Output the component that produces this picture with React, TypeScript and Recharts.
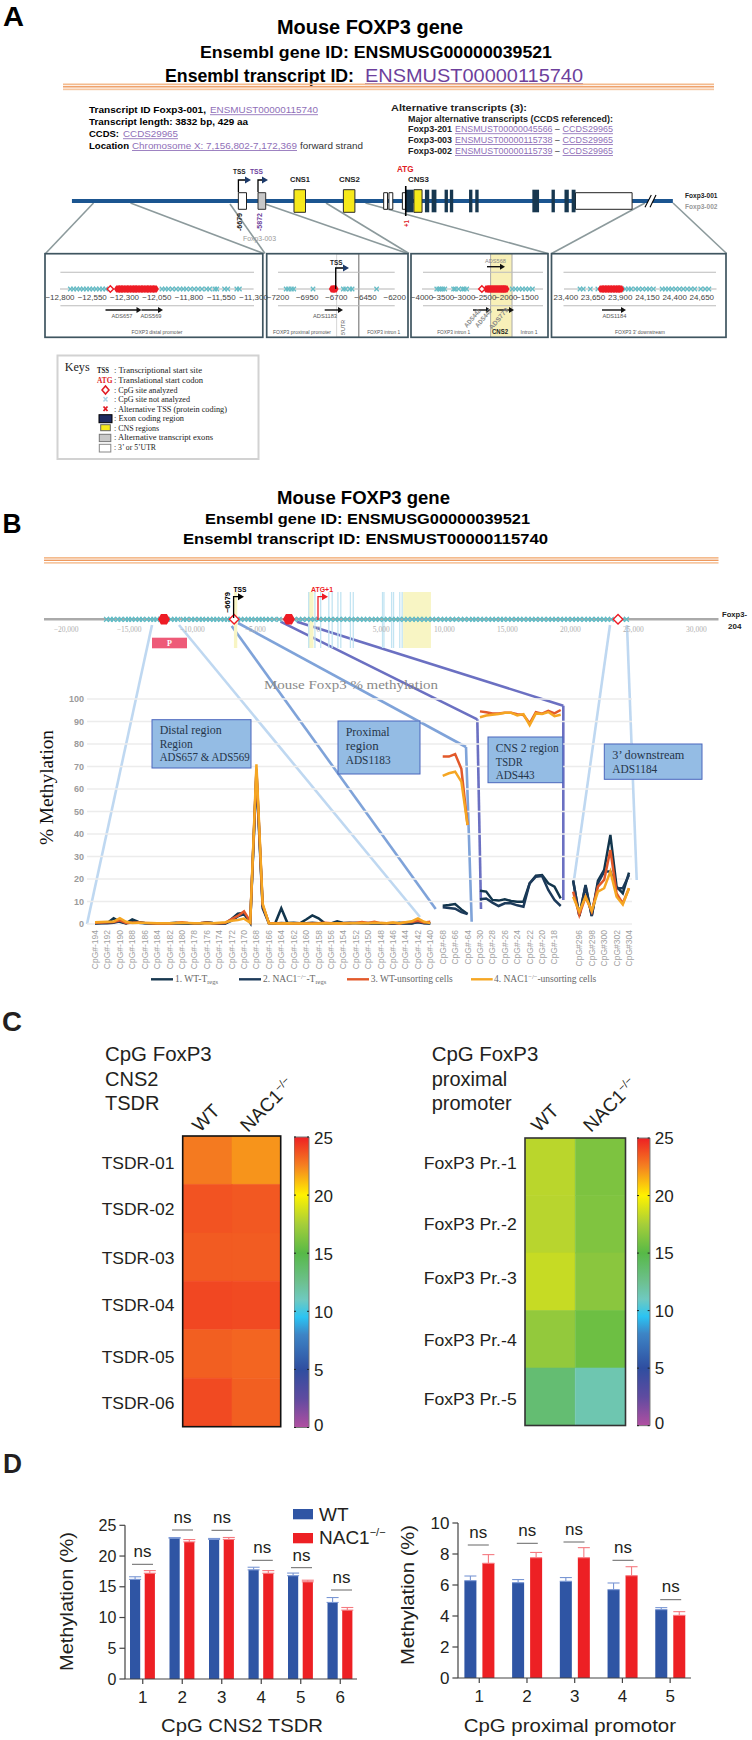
import React from "react";
import {
  Bar, BarChart, CartesianGrid, Cell, ErrorBar, Line, LineChart, ReferenceArea,
  ReferenceLine, Scatter, ScatterChart, XAxis, YAxis,
} from "recharts";

const SANS = "Liberation Sans, Arial, sans-serif";
const SERIF = "Liberation Serif, serif";
const PURPLE = "#6d3f9c";
const LINK = "#8f6fb8";
const INK = "#231f20";

// panel B: % methylation by CpG site
const distalSites = [
  -194, -193, -192, -191, -190, -189, -188, -187, -186, -185, -184, -183, -182, -181, -180, -179, -178, -177, -176,
  -175, -174, -173, -172, -171, -170, -169, -168, -167, -166, -165, -164, -163, -162, -161, -160, -159, -158, -157,
  -156, -155, -154, -153, -152, -151, -150, -149, -148, -147, -146, -145, -144, -143, -142, -141, -140,
];
const proximalSites = [-68, -67, -66, -65, -64];
const tsdrSites = [-30, -29, -28, -27, -26, -25, -24, -23, -22, -21, -20, -19, -18, -17];
const downstreamSites = [295, 296, 297, 298, 299, 300, 301, 302, 303, 304];

const distalWtTreg = [
  0.3, 0.4, 0.5, 2.6, 1.0, 0.3, 2.0, 0.9, 0.4, 0.3, 0.2, 0.2, 0.3, 0.6, 0.3, 0.2, 0.2, 0.3, 0.8, 0.4,
  0.2, 0.3, 2.2, 4.6, 5.0, 0.5, 68, 8.0, 0.5, 0.2, 7.0, 0.4, 0.5, 0.3, 2.0, 3.8, 2.5, 0.3, 0.3, 1.2,
  0.5, 0.6, 0.5, 0.3, 0.4, 0.3, 0.2, 0.3, 0.2, 0.5, 0.3, 0.2, 1.0, 0.4, 0.3,
];
const distalNacTreg = [
  0.2, 0.3, 0.3, 0.5, 1.2, 0.4, 0.8, 0.5, 0.3, 0.2, 0.2, 0.3, 0.2, 0.3, 0.2, 0.2, 0.3, 0.2, 0.5, 0.3,
  0.2, 0.2, 1.5, 3.4, 4.4, 0.8, 66, 7.0, 0.3, 0.2, 0.4, 0.3, 0.2, 0.2, 0.3, 0.5, 0.3, 0.2, 0.2, 0.6,
  0.3, 0.2, 0.4, 0.3, 0.2, 0.2, 0.3, 0.2, 0.3, 0.2, 0.2, 0.3, 0.8, 0.3, 0.2,
];
const distalWtUnsort = [
  0.6, 0.7, 0.8, 0.9, 1.6, 0.5, 0.6, 0.7, 0.5, 0.3, 0.2, 0.3, 0.2, 0.4, 0.8, 0.5, 0.3, 0.4, 0.6, 0.3,
  0.3, 0.5, 2.2, 3.6, 5.6, 1.2, 69, 8.5, 0.4, 0.3, 0.2, 0.3, 0.2, 0.2, 0.1, 0.2, 0.3, 0.6, 0.3, 0.2,
  0.3, 0.4, 0.5, 0.9, 0.5, 1.0, 0.4, 0.3, 0.6, 0.2, 0.8, 0.9, 1.4, 0.7, 1.0,
];
const distalNacUnsort = [
  0.8, 0.9, 1.0, 1.1, 2.6, 1.0, 0.5, 0.6, 0.5, 0.4, 0.3, 0.3, 0.3, 0.4, 0.5, 0.4, 0.3, 0.3, 0.4, 0.3,
  0.6, 0.8, 1.4, 1.8, 2.4, 0.6, 71, 9.0, 0.3, 0.2, 0.2, 0.3, 0.2, 0.2, 0.2, 0.1, 0.2, 0.3, 0.2, 0.3,
  0.2, 0.3, 0.3, 0.4, 0.3, 0.5, 0.4, 0.3, 0.7, 0.3, 0.8, 1.2, 2.5, 1.0, 0.4,
];
const proxWtTreg = [8.1, 8.4, 8.9, 6.5, 4.4];
const proxNacTreg = [7.4, 7.1, 6.8, 5.3, 4.4];
const proxWtUnsort = [74.4, 74.4, 75.5, 69, 44];
const proxNacUnsort = [65.8, 67, 67.7, 63.3, 44];
const tsdrWtTreg = [14.8, 14.4, 10.7, 10.4, 11, 10.2, 9.9, 9.9, 18.1, 21.5, 21.8, 18.1, 16.6, 11.4];
const tsdrNacTreg = [11, 11.3, 9.5, 8, 9.2, 9.2, 8.3, 7.7, 18.1, 21, 21.3, 15.1, 10.7, 8];
const tsdrWtUnsort = [94.5, 94.1, 93.6, 93.6, 93.9, 93.9, 93.2, 92.9, 89.2, 94.1, 93.5, 94.7, 93.6, 95.1];
const tsdrNacUnsort = [91.9, 92.7, 93, 93.3, 93.9, 93.9, 92.7, 93.3, 88.4, 93.6, 93.3, 94.2, 92.4, 93];
const downWtTreg = [19.3, 3.6, 17.3, 3.6, 19.3, 24, 39.6, 16.6, 13.6, 22.8];
const downNacTreg = [19.3, 3.6, 16.9, 3.6, 18.1, 23.3, 23.3, 15.9, 15.9, 21.8];
const downWtUnsort = [14.4, 4, 12.1, 5.5, 16.6, 19.6, 32.9, 13.6, 9.2, 15.9];
const downNacUnsort = [12.1, 5.5, 12.1, 5.9, 14.4, 15.9, 23.3, 12.1, 8.7, 15.9];
const percentTicks = [0, 10, 20, 30, 40, 50, 60, 70, 80, 90, 100];

// panel C
const tsdrRows = ["TSDR-01", "TSDR-02", "TSDR-03", "TSDR-04", "TSDR-05", "TSDR-06"];
const tsdrHeatWT = [22.7, 23.7, 23.5, 24.0, 23.4, 23.93];
const tsdrHeatNAC = [22.1, 23.57, 23.47, 23.93, 23.25, 23.4];
const prRows = ["FoxP3 Pr.-1", "FoxP3 Pr.-2", "FoxP3 Pr.-3", "FoxP3 Pr.-4", "FoxP3 Pr.-5"];
const prHeatWT = [18.05, 18.0, 18.4, 16.9, 13.5];
const prHeatNAC = [16.2, 16.3, 16.6, 15.7, 11.5];
const colorStops = [
  [0, "#b14fa1"], [2.5, "#5f4ba0"], [5, "#2f4ea0"], [8, "#3d85c6"], [9.5, "#2bc4f3"], [11, "#6fc9c0"],
  [12.5, "#6dc08f"], [15, "#57b947"], [17.5, "#a6ce39"], [20, "#fff200"], [22.5, "#f58220"], [25, "#ee2024"],
] as [number, string][];
const colorbarTicks = [0, 5, 10, 15, 20, 25];

// panel D
const tsdrCpG = ["1", "2", "3", "4", "5", "6"];
const tsdrWT = [16.2, 22.9, 22.7, 17.75, 16.8, 12.45];
const tsdrWTerr = [0.43, 0.1, 0.16, 0.43, 0.43, 0.8];
const tsdrNAC = [17.2, 22.3, 22.7, 17.2, 15.8, 11.2];
const tsdrNACerr = [0.43, 0.38, 0.32, 0.43, 0.27, 0.43];
const promCpG = ["1", "2", "3", "4", "5"];
const promWT = [6.28, 6.15, 6.24, 5.7, 4.41];
const promWTerr = [0.3, 0.2, 0.24, 0.43, 0.13];
const promNAC = [7.4, 7.76, 7.76, 6.6, 4.04];
const promNACerr = [0.56, 0.34, 0.65, 0.58, 0.24];

// gene model of panel A, in map units along the transcript drawing
const utrExons = [[497, 514], [800, 808], [811, 819], [839, 847], [1200, 1318]];
const altExons = [[538, 554]];
const cnsBlocks = [[613, 637], [716, 740], [863, 880]];
const codingExons = [
  [846, 862], [886, 895], [900, 910], [927, 934], [938, 945], [978, 985], [991, 998], [1110, 1124], [1150, 1157],
  [1177, 1186], [1192, 1200],
];

// CpG positions (bp from ATG) in the four close-ups of panel A
const distalNot = [
  -12720, -12695, -12670, -12645, -12620, -12595, -12570, -12545, -12520, -12495, -12470, -12445, -12010, -11985,
  -11960, -11930, -11900, -11870, -11845, -11820, -11790, -11760, -11730, -11700, -11665, -11640, -11600, -11585,
  -11525, -11500, -11430, -11410,
];
const distalYes = [
  -12350, -12330, -12310, -12285, -12265, -12240, -12220, -12200, -12175, -12155, -12130, -12110, -12085, -12065,
];
const distalHollow = [-12410];
const proxNot = [-7130, -7110, -7085, -7065, -6900, -6640, -6620, -6585, -6565, -6355];
const proxYes = [-6730, -6715];
const cns2Not = [
  -3650, -3600, -3560, -3510, -3460, -3250, -3210, -3130, -3040, -3000, -2940, -1860, -1780, -1700, -1620, -1540,
  -1460, -1380,
];
const cns2Yes = [-2450, -2400, -2350, -2300, -2250, -2200, -2150, -2100, -2060, -2020];
const cns2Hollow = [-2580];
const downNot = [
  23530, 23560, 23625, 23694, 23915, 23945, 23975, 24000, 24040, 24070, 24105, 24140, 24170, 24205, 24285, 24315,
  24345, 24375, 24410, 24445, 24480, 24515, 24550, 24585, 24640, 24680, 24715,
];
const downYes = [23730, 23755, 23780, 23805, 23830, 23855, 23880, 23900];

// panel B gene track
const trackNot = [
  -16800, -16500, -16250, -15900, -15650, -15300, -15050, -14800, -14500, -14200, -13950, -13600, -13300, -13050,
  -12800, -12500, -12000, -11700, -11400, -11150, -10700, -10450, -10050, -9800, -9450, -9200, -8900, -8600, -8300,
  -8050, -7750, -7450, -7200, -6950, -6400, -6150, -5850, -5550, -5300, -5000, -4700, -4450, -4150, -3850, -3500,
  -3100, -1900, -1550, -1250, -900, -600, -300, 50, 400, 700, 1000, 1350, 1650, 2000, 2300, 2650, 2950, 3300, 3600,
  3900, 4250, 4550, 4850, 5200, 5500, 5850, 6150, 6450, 6800, 7100, 7450, 7750, 8050, 8400, 8700, 9050, 9350, 9700,
  10000, 10300, 10650, 10950, 11300, 11600, 11950, 12250, 12500, 12850, 13150, 13500, 13800, 14100, 14450, 14700,
  15050, 15350, 15700, 16000, 16300, 16650, 16950, 17250, 17600, 17900, 18250, 18550, 18850, 19200, 19500, 19800,
  20150, 20450, 20750, 21100, 21400, 21700, 22050, 22350, 22650, 22950, 23250, 24150, 24450,
];
const trackYes = [-12245, -2330];
const trackHollow = [-6679, 23780];
const trackTicks = [-20000, -15000, -10000, -5000, 0, 5000, 10000, 15000, 20000, 25000, 30000];
const exonLines = [
  -760, -266, 190, 837, 1103, 1559, 1787, 2548, 2776, 5096, 5210, 5818, 5970, 6465, 6655,
];
const cnsBands = [[-6693, -6427], [-800, -380], [6731, 8937]];

const siteRows = [
  ...distalSites.map((s, i) => ({ site: `CpG#${s}`, a: distalWtTreg[i], b: distalNacTreg[i], c: distalWtUnsort[i], d: distalNacUnsort[i] })),
  { site: "gap1" },
  ...proximalSites.map((s, i) => ({ site: `CpG#${s}`, a: proxWtTreg[i], b: proxNacTreg[i], c: proxWtUnsort[i], d: proxNacUnsort[i] })),
  { site: "gap2" },
  ...tsdrSites.map((s, i) => ({ site: `CpG#${s}`, a: tsdrWtTreg[i], b: tsdrNacTreg[i], c: tsdrWtUnsort[i], d: tsdrNacUnsort[i] })),
  { site: "gap3" },
  ...downstreamSites.map((s, i) => ({ site: `CpG#${s}`, a: downWtTreg[i], b: downNacTreg[i], c: downWtUnsort[i], d: downNacUnsort[i] })),
];

function heatColor(v: number) {
  for (let i = 1; i < colorStops.length; i++) {
    const [v0, c0] = colorStops[i - 1];
    const [v1, c1] = colorStops[i];
    if (v <= v1) {
      const t = (v - v0) / (v1 - v0);
      const ch = (c: string, k: number) => parseInt(c.slice(k, k + 2), 16);
      const mix = (k: number) => Math.round(ch(c0, k) + (ch(c1, k) - ch(c0, k)) * t);
      return `rgb(${mix(1)},${mix(3)},${mix(5)})`;
    }
  }
  return colorStops[colorStops.length - 1][1];
}

const at = (left: number, top: number): React.CSSProperties => ({ position: "absolute", left, top });

function Txt({ x, y, w, s = 10, c = "#000", b = false, f = SANS, a = "start", r = 0, u = false, children }: any) {
  return (
    <text
      x={x} y={y} fontSize={s} fill={c} fontWeight={b ? "bold" : "normal"} fontFamily={f} textAnchor={a}
      textLength={w} lengthAdjust={w ? "spacingAndGlyphs" : undefined} textDecoration={u ? "underline" : undefined}
      transform={r ? `rotate(${r} ${x} ${y})` : undefined}
    >
      {children}
    </text>
  );
}

function Seg({ p, c = "#000", w = 1 }: any) {
  return <line x1={p[0]} y1={p[1]} x2={p[2]} y2={p[3]} stroke={c} strokeWidth={w} />;
}

function Arrow({ x1, x2, y, c = "#111", h = 3 }: any) {
  return (
    <g>
      <line x1={x1} y1={y} x2={x2 - 3} y2={y} stroke={c} strokeWidth={1.4} />
      <polygon points={`${x2 - 5},${y - h} ${x2},${y} ${x2 - 5},${y + h}`} fill={c} />
    </g>
  );
}

function Tss({ x, yTop, yBase, end, head = "#1c3a6a", stem = "#000" }: any) {
  return (
    <g>
      <polyline points={`${x},${yBase} ${x},${yTop} ${end - 5},${yTop}`} fill="none" stroke={stem} strokeWidth={1.3} />
      <polygon points={`${end - 6},${yTop - 3.5} ${end},${yTop} ${end - 6},${yTop + 3.5}`} fill={head} />
    </g>
  );
}

function Rule({ x, w, y }: any) {
  return (
    <g>
      <rect x={x} y={y} width={w} height={1.7} fill="#f4bb8e" />
      <rect x={x} y={y + 2.6} width={w} height={1.4} fill="#ee9a5f" />
      <rect x={x} y={y + 5} width={w} height={1.7} fill="#f6c6a0" />
    </g>
  );
}

const crossShape = (size: number, color: string) => (p: any) => (
  <path
    d={`M${p.cx - size} ${p.cy - size}L${p.cx + size} ${p.cy + size}M${p.cx - size} ${p.cy + size}L${p.cx + size} ${p.cy - size}`}
    stroke={color} strokeWidth={1.3} fill="none"
  />
);
const hexShape = (r: number) => (p: any) => (
  <polygon
    points={`${p.cx - r},${p.cy} ${p.cx - r * 0.5},${p.cy - r * 0.87} ${p.cx + r * 0.5},${p.cy - r * 0.87} ${p.cx + r},${p.cy} ${p.cx + r * 0.5},${p.cy + r * 0.87} ${p.cx - r * 0.5},${p.cy + r * 0.87}`}
    fill="#ee1c25"
  />
);
const diamondShape = (r: number) => (p: any) => (
  <polygon
    points={`${p.cx - r},${p.cy} ${p.cx},${p.cy - r} ${p.cx + r},${p.cy} ${p.cx},${p.cy + r}`}
    fill="#fff" stroke="#ee1c25" strokeWidth={1.4}
  />
);
const pts = (list: number[]) => list.map((x) => ({ x, y: 0 }));
const commaFmt = (v: number) => v.toLocaleString("en-US").replace("-", "\u2212");
const plainFmt = (v: number) => String(v).replace("-", "\u2212");

function SiteStrip({
  left, top, width, height, domain, yDomain = [-5, 5], ticks, not, yes, hollow = [], fmt, dy, font, tickColor, tickFont, hexR = 4,
  cross = 2.2, crossColor = "#66bcc6", trackColor = "#b5b5b5", trackWidth = 1.2, extra,
}: any) {
  const side = 22;
  return (
    <div style={at(left - side, top)}>
      <ScatterChart width={width + side * 2} height={height + 14} margin={{ top: 0, right: side, bottom: 0, left: side }}>
        <XAxis
          type="number" dataKey="x" domain={domain} ticks={ticks} interval={0} axisLine={false} tickLine={false}
          tickSize={0} tickMargin={0} height={14} allowDataOverflow
          tick={(p: any) => (
            <text x={p.x} y={p.y + dy} textAnchor="middle" fontSize={tickFont} fontFamily={font} fill={tickColor}>
              {fmt(p.payload.value)}
            </text>
          )}
        />
        <YAxis type="number" dataKey="y" domain={yDomain} hide />
        {extra}
        <ReferenceLine y={0} stroke={trackColor} strokeWidth={trackWidth} />
        <Scatter data={pts(not)} shape={crossShape(cross, crossColor)} isAnimationActive={false} />
        <Scatter data={pts(yes)} shape={hexShape(hexR)} isAnimationActive={false} />
        <Scatter data={pts(hollow)} shape={diamondShape(hexR * 0.8)} isAnimationActive={false} />
      </ScatterChart>
    </div>
  );
}

function GeneModel() {
  const block = (list: number[][], half: number, fill: string, stroke: string, sw = 1) =>
    list.map(([x1, x2]) => (
      <ReferenceArea
        key={`${fill}${x1}`} x1={x1} x2={x2} y1={-half} y2={half} fill={fill} fillOpacity={1} stroke={stroke}
        strokeWidth={sw} ifOverflow="visible"
      />
    ));
  return (
    <div style={at(0, 186)}>
      <ScatterChart width={752} height={30} margin={{ top: 0, right: 0, bottom: 0, left: 0 }}>
        <XAxis type="number" dataKey="x" domain={[0, 1568]} hide />
        <YAxis type="number" dataKey="y" domain={[-15, 15]} hide />
        <ReferenceArea x1={150} x2={1403} y1={-1.9} y2={1.9} fill="#1b5590" fillOpacity={1} stroke="none" ifOverflow="visible" />
        {block(utrExons, 8.3, "#ffffff", "#222")}
        {block(altExons, 8.3, "#c8c8c8", "#333")}
        {block(codingExons, 11.3, "#17374f", "#17374f", 0)}
        {block(cnsBlocks, 11.3, "#f6e91b", "#2a2a2a")}
        <ReferenceLine x={846} stroke="#000" strokeWidth={1.6} />
        <Scatter data={pts([150, 1403])} shape={() => <g />} isAnimationActive={false} />
      </ScatterChart>
    </div>
  );
}

function Heatmap({ left, top, width, height, rows, wt, nac }: any) {
  const data = ["WT", "NAC1"].map((col) => {
    const row: any = { col };
    rows.forEach((_: string, i: number) => { row[`r${i}`] = 1; });
    return row;
  });
  return (
    <div style={at(left, top)}>
      <BarChart width={width} height={height} data={data} margin={{ top: 0, right: 0, bottom: 0, left: 0 }} barCategoryGap={0}>
        <XAxis dataKey="col" hide />
        <YAxis type="number" domain={[0, rows.length]} reversed hide />
        {rows.map((_: string, i: number) => (
          <Bar key={i} dataKey={`r${i}`} stackId="h" isAnimationActive={false}>
            <Cell fill={heatColor(wt[i])} stroke={heatColor(wt[i])} strokeWidth={0.6} />
            <Cell fill={heatColor(nac[i])} stroke={heatColor(nac[i])} strokeWidth={0.6} />
          </Bar>
        ))}
      </BarChart>
    </div>
  );
}

function Colorbar({ id, left, top, width, height, lift }: any) {
  return (
    <div style={at(left, top - 10)}>
      <BarChart
        width={width + 34} height={height + 20} data={[{ name: "scale", top: 25 }]}
        margin={{ top: 10, right: 0, bottom: 10, left: 0 }} barCategoryGap={0}
      >
        <defs>
          <linearGradient id={id} x1="0" y1="0" x2="0" y2="1">
            {[...colorStops].reverse().map(([v, c]) => <stop key={v} offset={`${((25 - v) / 25) * 100}%`} stopColor={c} />)}
          </linearGradient>
        </defs>
        <XAxis dataKey="name" hide />
        <YAxis
          orientation="right" type="number" domain={[0, 25]} ticks={colorbarTicks} interval={0} width={34} axisLine={false}
          tickLine={false} tickSize={0} tickMargin={0}
          tick={(p: any) => (
            <g>
              <line x1={p.x - width} x2={p.x - width + 2} y1={p.y} y2={p.y} stroke="#222" />
              <line x1={p.x - 2} x2={p.x} y1={p.y} y2={p.y} stroke="#222" />
              <text x={p.x + 5} y={p.y + (p.payload.value === 0 ? 3 : lift)} fontSize={17} fontFamily={SANS} fill={INK}>
                {p.payload.value}
              </text>
            </g>
          )}
        />
        <Bar dataKey="top" fill={`url(#${id})`} stroke="#777" strokeWidth={1} isAnimationActive={false} />
      </BarChart>
    </div>
  );
}

function MethBars({ left, top, width, height, margin, yWidth, cats, wt, wtErr, nac, nacErr, domain, ticks, barSize, barGap, padding, tickFont }: any) {
  const data = cats.map((c: string, i: number) => ({ c, wt: wt[i], wtE: [0, wtErr[i]], nac: nac[i], nacE: [0, nacErr[i]] }));
  const axis = { stroke: "#444", strokeWidth: 1.2 };
  return (
    <div style={at(left, top)}>
      <BarChart width={width} height={height} data={data} margin={margin} barSize={barSize} barGap={barGap}>
        <XAxis
          dataKey="c" axisLine={axis} tickLine={axis} tickSize={5} tickMargin={7} height={31} padding={padding}
          tick={{ fontSize: 17, fill: INK, fontFamily: SANS }} interval={0}
        />
        <YAxis
          type="number" domain={domain} ticks={ticks} interval={0} width={yWidth} axisLine={axis} tickLine={axis} tickSize={5.6}
          tickMargin={3} tick={{ fontSize: tickFont, fill: INK, fontFamily: SANS }}
        />
        <Bar dataKey="wt" fill="#2f55a4" isAnimationActive={false}>
          <ErrorBar dataKey="wtE" direction="y" width={6} stroke="#7a97d4" strokeWidth={1.1} isAnimationActive={false} />
        </Bar>
        <Bar dataKey="nac" fill="#ed2024" isAnimationActive={false}>
          <ErrorBar dataKey="nacE" direction="y" width={6} stroke="#f57a80" strokeWidth={1.1} isAnimationActive={false} />
        </Bar>
      </BarChart>
    </div>
  );
}

// annotation geometry, page pixels
const connectorsA = [
  [93.5, 203, 45.5, 253.5], [130.5, 203, 263.8, 253.5], [230, 204, 265, 253.5], [265, 204, 407.7, 253.5],
  [326, 203, 409, 253.5], [365.5, 203, 548, 253.5], [645, 203, 551.6, 253.5], [673, 203, 726.6, 253.5],
];
const connectorsB = [
  ["#bfd8f1", 152, 625, 87, 924], ["#bfd8f1", 179, 625, 420, 917], ["#7fa3d9", 231.7, 626, 435.7, 909],
  ["#7fa3d9", 238, 623, 466, 747], ["#7fa3d9", 466, 747, 471.7, 921.7], ["#6b70c2", 280.6, 621.7, 477.3, 719.3],
  ["#6b70c2", 477.3, 719.3, 481, 909], ["#6b70c2", 297, 621.7, 563.3, 705.7], ["#6b70c2", 563.3, 705.7, 563.3, 900],
  ["#bfd8f1", 610, 625, 574, 880], ["#bfd8f1", 627, 625, 636.7, 880],
];
const boxesB = [
  { x: 152, y: 719.7, w: 99, h: 48.3, tx: 159.7, lines: [["Distal region", 734, 62], ["Region", 747.7, 33], ["ADS657 & ADS569", 761.3, 90]] },
  { x: 338, y: 721, w: 82, h: 53, tx: 345.7, lines: [["Proximal", 736, 44], ["region", 750, 33], ["ADS1183", 764, 45]] },
  { x: 488, y: 737, w: 74.7, h: 45.7, tx: 495.7, lines: [["CNS 2 region", 751.7, 63], ["TSDR", 765.7, 27], ["ADS443", 779, 39]] },
  { x: 604.3, y: 744, w: 97.7, h: 35.3, tx: 612.3, lines: [["3\u2019 downstream", 759, 72], ["ADS1184", 772.7, 45]] },
];
const keyRows = [
  ["Transcriptional start site", 373.3, 88], ["Translational start codon", 382.7, 89], ["CpG site analyzed", 392.7, 63.5],
  ["CpG site not analyzed", 402, 76], ["Alternative TSS (protein coding)", 411.7, 113], ["Exon coding region", 421.3, 70],
  ["CNS regions", 430.7, 45], ["Alternative transcript exons", 440.3, 99], ["3\u2019 or 5\u2019UTR", 450, 42],
];
const nsLeft = [[142.5, 1557.3, 1564.3], [182.5, 1523.3, 1530], [222, 1523.3, 1530.3], [262.3, 1553.3, 1560.3], [301.5, 1560.7, 1567.7], [341.5, 1582.7, 1590]];
const nsRight = [[478.3, 1537.7, 1545], [527.3, 1536, 1543.3], [574, 1535, 1542], [623, 1553.3, 1560.3], [670.7, 1592.3, 1599.7]];
const tsdrLabelY = [1168.7, 1215, 1264, 1310.7, 1362.7, 1409];
const prLabelY = [1168.7, 1230, 1284, 1346, 1405];

function Back() {
  return (
    <svg width={752} height={1740} style={at(0, 0)}>
      {connectorsA.map((p, i) => <Seg key={i} p={p} c="#8c9a9c" w={1.6} />)}
      {connectorsB.map(([c, x1, y1, x2, y2], i) => (
        <Seg key={i} p={[x1, y1, x2, y2]} c={c} w={2.6} />
      ))}
      <rect x={490.6} y={254} width={21.4} height={83} fill="#f8f0b8" />
      <line x1={490.6} x2={490.6} y1={254} y2={337} stroke="#aaa" />
      <line x1={512} x2={512} y1={254} y2={337} stroke="#aaa" />
      <rect x={336.7} y={254} width={22} height={83} fill="#fff" stroke="#ccc" strokeWidth={0.8} />
      <line x1={358.8} x2={358.8} y1={254} y2={337} stroke="#888" strokeWidth={1.2} />
    </svg>
  );
}

function Front() {
  const grey = "#555";
  return (
    <svg width={752} height={1740} style={{ ...at(0, 0), pointerEvents: "none" }}>
      {/* panel A header */}
      <Txt x={3} y={26} s={27} b w={21}>A</Txt>
      <Txt x={277} y={34} s={20} b w={186}>Mouse FOXP3 gene</Txt>
      <Txt x={200} y={58.3} s={16.5} b w={352}>Ensembl gene ID: ENSMUSG00000039521</Txt>
      <Txt x={165} y={82.3} s={17.5} b w={189}>Ensembl transcript ID:</Txt>
      <Txt x={365} y={82.3} s={17.5} c={PURPLE} w={218} u>ENSMUST00000115740</Txt>
      <Rule x={63} w={651} y={83.5} />

      <Txt x={89} y={113.3} s={8.6} b w={117}>Transcript ID  Foxp3-001,</Txt>
      <Txt x={210} y={113.3} s={8.6} c={LINK} w={108} u>ENSMUST00000115740</Txt>
      <Txt x={89} y={125.3} s={8.6} b w={159}>Transcript length: 3832 bp, 429 aa</Txt>
      <Txt x={89} y={137.3} s={8.6} b w={30}>CCDS:</Txt>
      <Txt x={123} y={137.3} s={8.6} c={LINK} w={55} u>CCDS29965</Txt>
      <Txt x={89} y={149} s={8.6} b w={40}>Location</Txt>
      <Txt x={132} y={149} s={8.6} c={LINK} w={165} u>Chromosome X: 7,156,802-7,172,369</Txt>
      <Txt x={300} y={149} s={8.6} c="#333" w={63}>forward strand</Txt>

      <Txt x={391} y={110.7} s={9.6} b c="#222" w={136}>Alternative transcripts (3):</Txt>
      <Txt x={408} y={121.7} s={8.2} b c="#222" w={205}>Major alternative transcripts (CCDS referenced):</Txt>
      {[["Foxp3-201", "ENSMUST00000045566", 132.3], ["Foxp3-003", "ENSMUST00000115738", 143], ["Foxp3-002", "ENSMUST00000115739", 154]].map(([n, id, y]: any) => (
        <g key={n}>
          <Txt x={408} y={y} s={8.4} b c="#222" w={44}>{n}</Txt>
          <Txt x={455} y={y} s={8.4} c={LINK} w={97.5} u>{id}</Txt>
          <Txt x={555} y={y} s={8.4} c="#333">–</Txt>
          <Txt x={562.6} y={y} s={8.4} c={LINK} w={50.4} u>CCDS29965</Txt>
        </g>
      ))}

      {/* gene model labels */}
      <Tss x={238.4} yTop={180} yBase={192.3} end={251} />
      <Tss x={258} yTop={180} yBase={192.3} end={268} />
      <Txt x={233} y={174.3} s={7} b c="#222" w={12.6}>TSS</Txt>
      <Txt x={250} y={174.3} s={7} b c={PURPLE} w={13}>TSS</Txt>
      <Txt x={290} y={182.3} s={7.5} b c="#222" w={20}>CNS1</Txt>
      <Txt x={339} y={182.3} s={7.5} b c="#222" w={21}>CNS2</Txt>
      <Txt x={397} y={172.3} s={9} b c="#e01b24" w={16.5}>ATG</Txt>
      <Txt x={408} y={182.3} s={7.5} b c="#222" w={21}>CNS3</Txt>
      <Txt x={242} y={231} s={7} b c="#222" r={-90} w={18}>-6679</Txt>
      <Txt x={261.5} y={231} s={7} b c={PURPLE} r={-90} w={18}>-5872</Txt>
      <Txt x={409} y={227} s={7} b c="#e01b24" r={-90} w={7}>+1</Txt>
      <Txt x={243} y={241.3} s={6.5} c="#999" w={33}>Foxp3-003</Txt>
      <Txt x={685} y={198.3} s={6.5} b c="#222" w={32.5}>Foxp3-001</Txt>
      <Txt x={685} y={208.7} s={6.5} b c="#999" w={32.5}>Foxp3-002</Txt>
      <polygon points="645,207.3 651.3,195 656,195 650,207.3" fill="#fff" />
      <Seg p={[645, 207.3, 651.3, 195]} w={1.1} />
      <Seg p={[650, 207.3, 656, 195]} w={1.1} />

      {/* close-up frames */}
      {[[45, 217.8], [266.7, 141.3], [411, 137], [551.5, 174.5]].map(([x, w]) => (
        <rect key={x} x={x} y={253.7} width={w} height={83.6} fill="none" stroke="#3f5560" strokeWidth={1.7} />
      ))}
      {[[60.4, 254], [278, 394.7], [423, 543], [563.5, 716]].map(([a, b]) => (
        <g key={a}>
          <line x1={a} x2={b} y1={272.3} y2={272.3} stroke="#bbb" strokeWidth={1.1} />
          <line x1={a} x2={b} y1={305.7} y2={305.7} stroke="#bbb" strokeWidth={1.1} />
        </g>
      ))}
      <Arrow x1={105.5} x2={141.5} y={310} />
      <Arrow x1={141.5} x2={163} y={310} />
      <Txt x={122} y={318.3} s={6} c={grey} a="middle" w={21}>ADS657</Txt>
      <Txt x={151} y={318.3} s={6} c={grey} a="middle" w={21}>ADS569</Txt>
      <Txt x={157} y={333.7} s={5.6} c={grey} a="middle" w={51}>FOXP3 distal promoter</Txt>
      <Tss x={335.7} yTop={268} yBase={289} end={349} />
      <Txt x={330} y={265} s={7} b c="#222" w={12.5}>TSS</Txt>
      <Arrow x1={324.7} x2={343} y={310} />
      <Txt x={325} y={318.3} s={6} c={grey} a="middle" w={24}>ADS1183</Txt>
      <Txt x={344.5} y={335} s={5.5} c={grey} r={-90} w={15}>5’UTR</Txt>
      <Txt x={302} y={333.7} s={5.6} c={grey} a="middle" w={58}>FOXP3 proximal promoter</Txt>
      <Txt x={383.7} y={333.7} s={5.6} c={grey} a="middle" w={33}>FOXP3 intron 1</Txt>
      <Arrow x1={487} x2={505} y={266.7} />
      <Txt x={495.5} y={263} s={6} c="#888" a="middle" w={21}>ADS568</Txt>
      <Arrow x1={473} x2={491} y={310} />
      <Arrow x1={497} x2={514} y={310} />
      <Txt x={467} y={328} s={6.5} b c="#888" r={-50} w={22}>ADS442</Txt>
      <Txt x={478} y={328} s={6.5} b c="#888" r={-50} w={22}>ADS443</Txt>
      <Txt x={492} y={330} s={6.5} b c="#888" r={-50} w={26}>ADS779</Txt>
      <Txt x={453.7} y={333.7} s={5.6} c={grey} a="middle" w={33}>FOXP3 intron 1</Txt>
      <Txt x={500} y={333.7} s={6.5} b c="#222" a="middle" w={16}>CNS2</Txt>
      <Txt x={529} y={333.7} s={5.6} c={grey} a="middle" w={17}>Intron 1</Txt>
      <Arrow x1={602} x2={626} y={310} />
      <Txt x={614.4} y={318.3} s={6} c={grey} a="middle" w={24}>ADS1184</Txt>
      <Txt x={640} y={333.7} s={5.6} c={grey} a="middle" w={50}>FOXP3 3’ downstream</Txt>

      {/* keys */}
      <rect x={57.5} y={355.5} width={201} height={103.5} fill="none" stroke="#d2d2d2" strokeWidth={2} />
      <Txt x={64.7} y={371} s={13} f={SERIF} c="#222" w={25}>Keys</Txt>
      <Txt x={97} y={373.3} s={8} f={SERIF} b c="#222" w={12}>TSS</Txt>
      <Txt x={97} y={382.7} s={8} f={SERIF} b c="#e01b24" w={15.5}>ATG</Txt>
      {keyRows.map(([t, y, w]: any) => (
        <Txt key={t} x={114} y={y} s={8.6} f={SERIF} c="#222" w={w}>{`: ${t}`}</Txt>
      ))}
      <polygon points="102,390 105.5,386 109,390 105.5,394" fill="#fff" stroke="#e01b24" strokeWidth={1.5} />
      <path d="M103.5 397L107.5 401.5M103.5 401.5L107.5 397" stroke="#a8d4e6" strokeWidth={1.4} />
      <path d="M103.5 406.5L107.5 411M103.5 411L107.5 406.5" stroke="#e01b24" strokeWidth={1.8} />
      <rect x={99} y={414.7} width={13} height={8} fill="#1f2a60" stroke="#000" />
      <rect x={100.7} y={424.7} width={9.6} height={6} fill="#f6e91b" stroke="#666" />
      <rect x={99.3} y={434.3} width={11.5} height={7.3} fill="#c8c8c8" stroke="#777" />
      <rect x={99.3} y={444.3} width={11.5} height={7.7} fill="#fff" stroke="#888" />

      {/* panel B header */}
      <Txt x={2.5} y={533} s={27} b w={19}>B</Txt>
      <Txt x={277} y={504} s={17.5} b w={173}>Mouse FOXP3 gene</Txt>
      <Txt x={205} y={524.3} s={15} b w={325}>Ensembl gene ID: ENSMUSG00000039521</Txt>
      <Txt x={183} y={544.3} s={15} b w={365}>Ensembl transcript ID:  ENSMUST00000115740</Txt>
      <Rule x={44} w={674.5} y={557} />
      <Tss x={233.6} yTop={596.7} yBase={618} end={244} head="#000" />
      <Tss x={318} yTop={596.7} yBase={620} end={328} head="#ee1c25" stem="#ee1c25" />
      <Txt x={233.5} y={591.7} s={6.5} b w={13}>TSS</Txt>
      <Txt x={229.5} y={613} s={7} b r={-90} w={21}>−6679</Txt>
      <Txt x={311} y={591.7} s={7} b c="#ee1c25" w={22}>ATG+1</Txt>
      <rect x={152} y={637.7} width={35} height={10.6} fill="#ee5a78" />
      <Txt x={169.5} y={646} s={8} f={SERIF} b c="#fff" a="middle">P</Txt>
      <Txt x={722} y={617.3} s={8} b c="#222" w={25}>Foxp3-</Txt>
      <Txt x={734.8} y={629} s={8} b c="#222" a="middle">204</Txt>

      {/* line chart captions */}
      <Txt x={264} y={689} s={13.5} f={SERIF} c="#8a8a8a" w={174}>Mouse Foxp3 % methylation</Txt>
      <Txt x={52.7} y={845} s={19} f={SERIF} c="#111" r={-90} w={115}>% Methylation</Txt>
      {boxesB.map((b) => (
        <g key={b.tx}>
          <rect x={b.x} y={b.y} width={b.w} height={b.h} fill="#94bce4" stroke="#4a67bd" strokeWidth={1} />
          {b.lines.map(([t, y, w]: any) => (
            <Txt key={t} x={b.tx} y={y} s={11.5} f={SERIF} c="#26364a" w={w}>{t}</Txt>
          ))}
        </g>
      ))}
      {[[151, 173, "#17374f"], [239, 261, "#1c3a5a"], [347, 369, "#e2592a"], [471, 492.7, "#f5a623"]].map(([a, b, c]: any) => (
        <line key={a} x1={a} x2={b} y1={979.3} y2={979.3} stroke={c} strokeWidth={2.4} />
      ))}
      <text x={175} y={982} fontSize={9.5} fontFamily={SERIF} fill="#666">1. WT-T<tspan dy={2} fontSize={6.5}>regs</tspan></text>
      <text x={263} y={982} fontSize={9.5} fontFamily={SERIF} fill="#666">2. NAC1<tspan dy={-3} fontSize={6.5}>−/−</tspan><tspan dy={3}>-T</tspan><tspan dy={2} fontSize={6.5}>regs</tspan></text>
      <text x={370.7} y={982} fontSize={9.5} fontFamily={SERIF} fill="#666">3. WT-unsorting cells</text>
      <text x={494} y={982} fontSize={9.5} fontFamily={SERIF} fill="#666">4. NAC1<tspan dy={-3} fontSize={6.5}>−/−</tspan><tspan dy={3}>-unsorting cells</tspan></text>

      {/* panel C */}
      <Txt x={2} y={1031} s={27} b c={INK} w={20}>C</Txt>
      <Txt x={105} y={1061} s={20} c={INK} w={106.7}>CpG FoxP3</Txt>
      <Txt x={105} y={1085.7} s={20} c={INK}>CNS2</Txt>
      <Txt x={105} y={1110} s={20} c={INK}>TSDR</Txt>
      <Txt x={431.7} y={1061} s={20} c={INK} w={106.6}>CpG FoxP3</Txt>
      <Txt x={431.7} y={1085.7} s={20} c={INK}>proximal</Txt>
      <Txt x={431.7} y={1110} s={20} c={INK}>promoter</Txt>
      {[[200, 248], [539, 591]].map(([wx, nx]) => (
        <g key={wx}>
          <Txt x={wx} y={1133} s={19} c={INK} r={-45}>WT</Txt>
          <text x={nx} y={1133} fontSize={19} fontFamily={SANS} fill={INK} transform={`rotate(-45 ${nx} 1133)`}>
            NAC1<tspan dy={-7} fontSize={11}>−/−</tspan>
          </text>
        </g>
      ))}
      {tsdrRows.map((t, i) => <Txt key={t} x={101.7} y={tsdrLabelY[i]} s={17} c={INK} w={72.7}>{t}</Txt>)}
      {prRows.map((t, i) => <Txt key={t} x={423.7} y={prLabelY[i]} s={17} c={INK} w={93}>{t}</Txt>)}
      <rect x={182.7} y={1136} width={98} height={290.7} fill="none" stroke="#111" strokeWidth={1.6} />
      <rect x={525} y={1138} width={100.5} height={287.5} fill="none" stroke="#333" strokeWidth={1.6} />

      {/* panel D */}
      <Txt x={3} y={1473} s={27} b c={INK} w={19}>D</Txt>
      <Txt x={73} y={1671} s={19} c={INK} r={-90} w={139}>Methylation (%)</Txt>
      <Txt x={413.7} y={1665} s={19} c={INK} r={-90} w={140}>Methylation (%)</Txt>
      <Txt x={161} y={1732} s={19} c={INK} w={162}>CpG CNS2 TSDR</Txt>
      <Txt x={463.7} y={1732} s={19} c={INK} w={212.3}>CpG proximal promotor</Txt>
      <rect x={293} y={1509} width={20} height={10.3} fill="#2f55a4" />
      <rect x={293} y={1533} width={20} height={10.3} fill="#ed2024" />
      <Txt x={319} y={1521} s={19} c={INK}>WT</Txt>
      <text x={319} y={1544} fontSize={19} fontFamily={SANS} fill={INK}>
        NAC1<tspan dy={-8} fontSize={11}>−/−</tspan>
      </text>
      {[...nsLeft, ...nsRight].map(([x, base, line]) => (
        <g key={x}>
          <Txt x={x} y={base} s={17} c={INK} a="middle">ns</Txt>
          <Seg p={[x - 10.5, line, x + 10.5, line]} c="#555" w={0.9} />
        </g>
      ))}
    </svg>
  );
}

function SiteTick(p: any) {
  const v = p.payload.value as string;
  if (v.startsWith("gap")) return <g />;
  return (
    <text
      x={p.x + 3} y={240} fontSize={8.5} fontFamily={SANS} fill="#a0a0a0" textAnchor="end"
      transform={`rotate(-90 ${p.x + 3} 240)`}
    >
      {v}
    </text>
  );
}

export default function App() {
  return (
    <div style={{ ...at(0, 0), width: 752, height: 1740, background: "#fff" }}>
      <Back />
      <GeneModel />
      <SiteStrip left={60.4} top={284.3} width={193.6} height={10} domain={[-12800, -11300]} ticks={[-12800, -12550, -12300, -12050, -11800, -11550, -11300]} not={distalNot} yes={distalYes} hollow={distalHollow} fmt={commaFmt} dy={5.7} font={SANS} tickColor="#444" tickFont={8} />
      <SiteStrip left={278} top={284.3} width={116.7} height={10} domain={[-7200, -6200]} ticks={[-7200, -6950, -6700, -6450, -6200]} not={proxNot} yes={proxYes} fmt={plainFmt} dy={5.7} font={SANS} tickColor="#444" tickFont={8} />
      <SiteStrip left={422} top={284.3} width={121} height={10} domain={[-4000, -1130]} ticks={[-4000, -3500, -3000, -2500, -2000, -1500]} not={cns2Not} yes={cns2Yes} hollow={cns2Hollow} fmt={plainFmt} dy={5.7} font={SANS} tickColor="#444" tickFont={8} />
      <SiteStrip left={563.5} top={284.3} width={152.5} height={10} domain={[23383, 24785]} ticks={[23400, 23650, 23900, 24150, 24400, 24650]} not={downNot} yes={downYes} fmt={commaFmt} dy={5.7} font={SANS} tickColor="#444" tickFont={8} />
      <SiteStrip
        left={44} top={592} width={674.5} height={56} domain={[-21760, 31752]} yDomain={[-28.7, 27.3]} ticks={trackTicks}
        not={trackNot} yes={trackYes} hollow={trackHollow} fmt={commaFmt} dy={-16.3} font={SERIF} tickColor="#b0b0b0" tickFont={7.5}
        hexR={6} cross={2.4} crossColor="#5fbcc6" trackColor="#aaaaaa" trackWidth={2.6}
        extra={[
          ...cnsBands.map(([a, b]) => <ReferenceArea key={a} x1={a} x2={b} fill="#f8f5c4" fillOpacity={1} stroke="none" />),
          ...exonLines.map((x) => <ReferenceLine key={x} x={x} stroke="#c2e4f2" strokeWidth={1.3} />),
        ]}
      />

      <div style={at(0, 690)}>
        <LineChart width={752} height={290} data={siteRows} margin={{ top: 9, right: 120, bottom: 6, left: 57 }}>
          <CartesianGrid horizontal vertical={false} stroke="#ececec" strokeWidth={1.4} />
          <XAxis dataKey="site" interval={1} height={50} tickLine={false} axisLine={false} padding={{ left: 8, right: 3 }} tick={SiteTick} />
          <YAxis
            type="number" domain={[0, 100]} ticks={percentTicks} interval={0} width={30} axisLine={false} tickLine={false} tickSize={0} tickMargin={3}
            tick={{ fontSize: 9, fontWeight: "bold", fill: "#9b9b9b", fontFamily: SANS }}
          />
          <Line dataKey="a" stroke="#12354c" strokeWidth={2.5} dot={false} isAnimationActive={false} />
          <Line dataKey="b" stroke="#1c3a5a" strokeWidth={2.5} dot={false} isAnimationActive={false} />
          <Line dataKey="c" stroke="#e2592a" strokeWidth={2.5} dot={false} isAnimationActive={false} />
          <Line dataKey="d" stroke="#f5a623" strokeWidth={2.5} dot={false} isAnimationActive={false} />
        </LineChart>
      </div>

      <Heatmap left={182.7} top={1136} width={98} height={290.7} rows={tsdrRows} wt={tsdrHeatWT} nac={tsdrHeatNAC} />
      <Heatmap left={525} top={1138} width={100.5} height={287.5} rows={prRows} wt={prHeatWT} nac={prHeatNAC} />
      <Colorbar id="barTsdr" left={294.3} top={1136.5} width={15} height={290.5} lift={7} />
      <Colorbar id="barProm" left={637.3} top={1138} width={12.7} height={287.7} lift={6} />

      <MethBars
        left={80} top={1510} width={300} height={200} margin={{ top: 15.3, right: 23, bottom: 0, left: 10 }} yWidth={35}
        cats={tsdrCpG} wt={tsdrWT} wtErr={tsdrWTerr} nac={tsdrNAC} nacErr={tsdrNACerr} domain={[0, 25]} ticks={[0, 5, 10, 15, 20, 25]}
        barSize={10.2} barGap={4.5} padding={{ left: -2, right: -3 }} tickFont={16}
      />
      <MethBars
        left={410} top={1510} width={320} height={199} margin={{ top: 13, right: 39, bottom: 0, left: 18 }} yWidth={30}
        cats={promCpG} wt={promWT} wtErr={promWTerr} nac={promNAC} nacErr={promNACerr} domain={[0, 10]} ticks={[0, 2, 4, 6, 8, 10]}
        barSize={12} barGap={6} padding={{ left: -2.6, right: -3 }} tickFont={17}
      />
      <Front />
    </div>
  );
}
